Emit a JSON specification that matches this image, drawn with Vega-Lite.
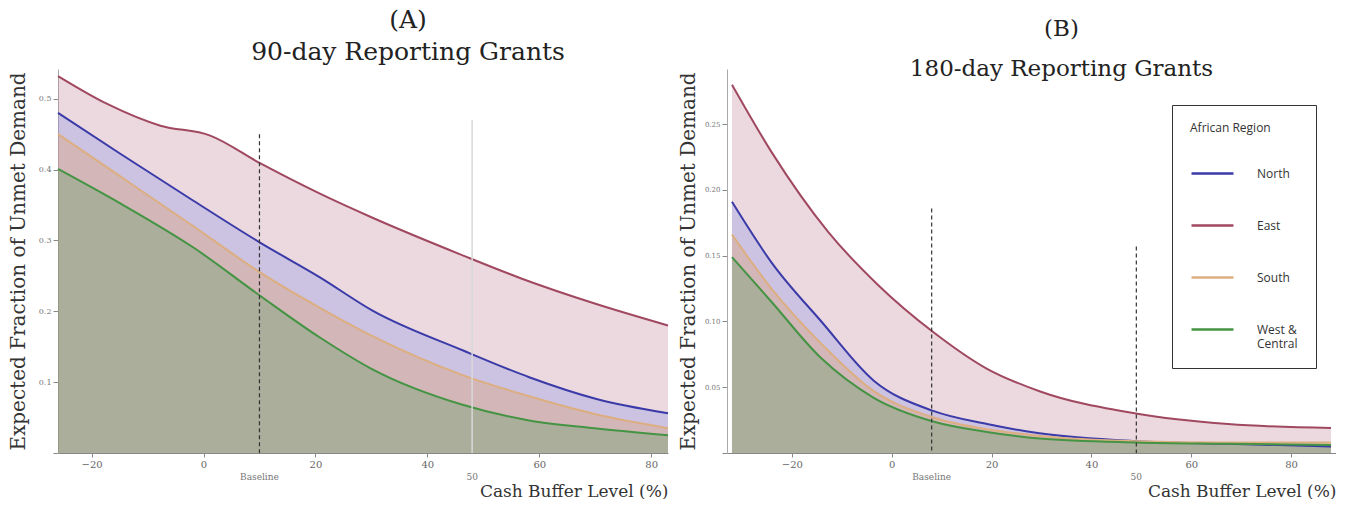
{
  "$schema": "https://vega.github.io/schema/vega-lite/v6.json",
  "background": "white",
  "padding": {"top": 8, "left": 8, "right": 0, "bottom": 0},
  "config": {"view": {"stroke": null}, "font": "DejaVu Serif"},
  "datasets": {
    "a": [
      {"x": -26, "y": 0.532, "region": "East"}, {"x": -17.3, "y": 0.493, "region": "East"}, {"x": -7.7, "y": 0.462, "region": "East"}, {"x": 1.2, "y": 0.448, "region": "East"}, {"x": 10.1, "y": 0.409, "region": "East"}, {"x": 20.8, "y": 0.366, "region": "East"}, {"x": 30.2, "y": 0.332, "region": "East"}, {"x": 46.3, "y": 0.279, "region": "East"}, {"x": 56.9, "y": 0.246, "region": "East"}, {"x": 69.9, "y": 0.211, "region": "East"}, {"x": 83, "y": 0.18, "region": "East"},
      {"x": -26, "y": 0.48, "region": "North"}, {"x": -14.8, "y": 0.422, "region": "North"}, {"x": -1.8, "y": 0.356, "region": "North"}, {"x": 10.1, "y": 0.297, "region": "North"}, {"x": 20.8, "y": 0.248, "region": "North"}, {"x": 30.2, "y": 0.201, "region": "North"}, {"x": 46.3, "y": 0.145, "region": "North"}, {"x": 58.2, "y": 0.107, "region": "North"}, {"x": 69.9, "y": 0.077, "region": "North"}, {"x": 83, "y": 0.056, "region": "North"},
      {"x": -26, "y": 0.45, "region": "South"}, {"x": -14.8, "y": 0.39, "region": "South"}, {"x": -1.8, "y": 0.32, "region": "South"}, {"x": 10.1, "y": 0.255, "region": "South"}, {"x": 20.8, "y": 0.205, "region": "South"}, {"x": 30.2, "y": 0.165, "region": "South"}, {"x": 46.3, "y": 0.11, "region": "South"}, {"x": 58.2, "y": 0.08, "region": "South"}, {"x": 69.9, "y": 0.055, "region": "South"}, {"x": 83, "y": 0.035, "region": "South"},
      {"x": -26, "y": 0.401, "region": "West & Central"}, {"x": -14.8, "y": 0.352, "region": "West & Central"}, {"x": -1.8, "y": 0.29, "region": "West & Central"}, {"x": 10.1, "y": 0.222, "region": "West & Central"}, {"x": 20.8, "y": 0.163, "region": "West & Central"}, {"x": 30.2, "y": 0.118, "region": "West & Central"}, {"x": 46.3, "y": 0.068, "region": "West & Central"}, {"x": 58.2, "y": 0.046, "region": "West & Central"}, {"x": 69.9, "y": 0.035, "region": "West & Central"}, {"x": 83, "y": 0.025, "region": "West & Central"}
    ],
    "b": [
      {"x": -32, "y": 0.28, "region": "East"}, {"x": -24.1, "y": 0.229, "region": "East"}, {"x": -12.7, "y": 0.168, "region": "East"}, {"x": -2.8, "y": 0.128, "region": "East"}, {"x": 8.3, "y": 0.092, "region": "East"}, {"x": 19.1, "y": 0.064, "region": "East"}, {"x": 29.6, "y": 0.047, "region": "East"}, {"x": 48.9, "y": 0.03, "region": "East"}, {"x": 67.4, "y": 0.022, "region": "East"}, {"x": 88, "y": 0.019, "region": "East"},
      {"x": -32, "y": 0.191, "region": "North"}, {"x": -24.1, "y": 0.145, "region": "North"}, {"x": -14.1, "y": 0.1, "region": "North"}, {"x": -3.6, "y": 0.055, "region": "North"}, {"x": 8.3, "y": 0.032, "region": "North"}, {"x": 19.1, "y": 0.022, "region": "North"}, {"x": 29.6, "y": 0.015, "region": "North"}, {"x": 48.9, "y": 0.009, "region": "North"}, {"x": 67.4, "y": 0.007, "region": "North"}, {"x": 88, "y": 0.005, "region": "North"},
      {"x": -32, "y": 0.166, "region": "South"}, {"x": -24.1, "y": 0.125, "region": "South"}, {"x": -14.1, "y": 0.083, "region": "South"}, {"x": -3.6, "y": 0.047, "region": "South"}, {"x": 8.3, "y": 0.027, "region": "South"}, {"x": 19.1, "y": 0.018, "region": "South"}, {"x": 29.6, "y": 0.013, "region": "South"}, {"x": 48.9, "y": 0.009, "region": "South"}, {"x": 67.4, "y": 0.008, "region": "South"}, {"x": 88, "y": 0.008, "region": "South"},
      {"x": -32, "y": 0.149, "region": "West & Central"}, {"x": -24.1, "y": 0.115, "region": "West & Central"}, {"x": -14.1, "y": 0.072, "region": "West & Central"}, {"x": -3.6, "y": 0.042, "region": "West & Central"}, {"x": 8.3, "y": 0.024, "region": "West & Central"}, {"x": 19.1, "y": 0.016, "region": "West & Central"}, {"x": 29.6, "y": 0.011, "region": "West & Central"}, {"x": 48.9, "y": 0.008, "region": "West & Central"}, {"x": 67.4, "y": 0.007, "region": "West & Central"}, {"x": 88, "y": 0.006, "region": "West & Central"}
    ],
    "ra": [
      {"x": 10, "y": 0.45, "base": 0, "label": "Baseline"},
      {"x": 48, "y": 0.47, "base": 0, "label": "50"}
    ],
    "rb": [
      {"x": 8, "y": 0.186, "base": 0, "label": "Baseline"},
      {"x": 49, "y": 0.157, "base": 0, "label": "50"}
    ]
  },
  "hconcat": [
    {
      "width": 610,
      "height": 384,
      "title": {"text": ["(A)", "90-day Reporting Grants"], "font": "DejaVu Serif", "fontSize": 25, "fontWeight": "normal", "color": "#222", "lineHeight": 32, "offset": 4, "dx": 45},
      "layer": [
        {
          "data": {"name": "a"},
          "mark": {"type": "area", "fillOpacity": 0.3, "interpolate": "monotone"},
          "encoding": {
            "x": {"field": "x", "type": "quantitative", "scale": {"domain": [-26, 83], "nice": false},
              "axis": {"values": [-20, 0, 20, 40, 60, 80], "grid": false, "title": "Cash Buffer Level (%)", "titleAnchor": "end", "titleFont": "DejaVu Serif", "titleFontSize": 17, "titleFontWeight": "normal", "titleColor": "#333", "titlePadding": 14, "labelFont": "DejaVu Serif", "labelFontSize": 10, "labelColor": "#666", "domainColor": "#888", "tickColor": "#888", "tickSize": 4}},
            "y": {"field": "y", "type": "quantitative", "stack": null, "scale": {"domain": [0, 0.542], "nice": false},
              "axis": {"values": [0, 0.1, 0.2, 0.3, 0.4, 0.5], "format": ".1f", "labelExpr": "datum.value == 0 ? '' : datum.label", "grid": false, "title": "Expected Fraction of Unmet Demand", "titleFont": "DejaVu Serif", "titleFontSize": 20, "titleFontWeight": "normal", "titleColor": "#333", "titlePadding": 10, "labelFont": "DejaVu Serif", "labelFontSize": 8, "labelColor": "#777", "domainColor": "#aaa", "tickColor": "#888", "tickSize": 5}},
            "fill": {"field": "region", "type": "nominal", "scale": {"domain": ["East", "North", "South", "West & Central"], "range": ["#c08098", "#8290e6", "#e49a58", "#4c9a5a"]}, "legend": null}
          }
        },
        {
          "data": {"name": "a"},
          "mark": {"type": "line", "strokeWidth": 2, "interpolate": "monotone"},
          "encoding": {
            "x": {"field": "x", "type": "quantitative"},
            "y": {"field": "y", "type": "quantitative"},
            "stroke": {"field": "region", "type": "nominal", "scale": {"domain": ["North", "East", "South", "West & Central"], "range": ["#3a3aa8", "#a04860", "#dcae80", "#449444"]}, "legend": null}
          }
        },
        {
          "data": {"name": "ra"},
          "transform": [{"filter": "datum.label == 'Baseline'"}],
          "mark": {"type": "rule", "strokeWidth": 1.2, "strokeDash": [4, 3], "color": "#333"},
          "encoding": {
            "x": {"field": "x", "type": "quantitative"},
            "y": {"field": "y", "type": "quantitative"},
            "y2": {"field": "base"}
          }
        },
        {
          "data": {"name": "ra"},
          "transform": [{"filter": "datum.label == '50'"}],
          "mark": {"type": "rule", "strokeWidth": 1.5, "color": "#d8d8d8"},
          "encoding": {
            "x": {"field": "x", "type": "quantitative"},
            "y": {"field": "y", "type": "quantitative"},
            "y2": {"field": "base"}
          }
        },
        {
          "data": {"name": "ra"},
          "mark": {"type": "text", "font": "DejaVu Serif", "fontSize": 9, "color": "#777", "dy": 24},
          "encoding": {
            "x": {"field": "x", "type": "quantitative"},
            "y": {"field": "base", "type": "quantitative"},
            "text": {"field": "label"}
          }
        }
      ]
    },
    {
      "width": 609,
      "height": 384,
      "title": {"text": ["(B)", "180-day Reporting Grants"], "font": "DejaVu Serif", "fontSize": 23, "fontWeight": "normal", "color": "#222", "lineHeight": 40, "offset": -12, "dx": 30},
      "layer": [
        {
          "data": {"name": "b"},
          "mark": {"type": "area", "fillOpacity": 0.3, "interpolate": "monotone"},
          "encoding": {
            "x": {"field": "x", "type": "quantitative", "scale": {"domain": [-33, 89], "nice": false},
              "axis": {"values": [-20, 0, 20, 40, 60, 80], "grid": false, "title": "Cash Buffer Level (%)", "titleAnchor": "end", "titleFont": "DejaVu Serif", "titleFontSize": 17, "titleFontWeight": "normal", "titleColor": "#333", "titlePadding": 14, "labelFont": "DejaVu Serif", "labelFontSize": 10, "labelColor": "#666", "domainColor": "#888", "tickColor": "#888", "tickSize": 4}},
            "y": {"field": "y", "type": "quantitative", "stack": null, "scale": {"domain": [0, 0.292], "nice": false},
              "axis": {"values": [0, 0.05, 0.1, 0.15, 0.2, 0.25], "format": ".2f", "labelExpr": "datum.value == 0 ? '' : datum.label", "grid": false, "title": "Expected Fraction of Unmet Demand", "titleFont": "DejaVu Serif", "titleFontSize": 20, "titleFontWeight": "normal", "titleColor": "#333", "titlePadding": 6, "labelFont": "DejaVu Serif", "labelFontSize": 7, "labelColor": "#777", "domainColor": "#aaa", "tickColor": "#888", "tickSize": 5}},
            "fill": {"field": "region", "type": "nominal", "legend": null}
          }
        },
        {
          "data": {"name": "b"},
          "mark": {"type": "line", "strokeWidth": 2, "interpolate": "monotone"},
          "encoding": {
            "x": {"field": "x", "type": "quantitative"},
            "y": {"field": "y", "type": "quantitative"},
            "stroke": {"field": "region", "type": "nominal",
              "legend": {"orient": "none", "legendX": 445, "legendY": 36, "title": "African Region", "titleFont": "Open Sans", "titleFontSize": 12, "titleFontWeight": "normal", "titleColor": "#333", "titlePadding": 16, "labelFont": "Open Sans", "labelFontSize": 12, "labelColor": "#333", "labelOffset": 22, "labelLimit": 90, "symbolType": "stroke", "symbolSize": 1760, "symbolStrokeWidth": 2.5, "rowPadding": 23, "padding": 18, "strokeColor": "#333", "labelExpr": "datum.label == 'West & Central' ? ['West &', 'Central'] : datum.label"}}
          }
        },
        {
          "data": {"name": "rb"},
          "mark": {"type": "rule", "strokeWidth": 1.2, "strokeDash": [4, 3], "color": "#333"},
          "encoding": {
            "x": {"field": "x", "type": "quantitative"},
            "y": {"field": "y", "type": "quantitative"},
            "y2": {"field": "base"}
          }
        },
        {
          "data": {"name": "rb"},
          "mark": {"type": "text", "font": "DejaVu Serif", "fontSize": 9, "color": "#777", "dy": 24},
          "encoding": {
            "x": {"field": "x", "type": "quantitative"},
            "y": {"field": "base", "type": "quantitative"},
            "text": {"field": "label"}
          }
        }
      ]
    }
  ],
  "resolve": {"scale": {"x": "independent", "y": "independent"}, "legend": {"stroke": "independent"}},
  "spacing": 6
}
